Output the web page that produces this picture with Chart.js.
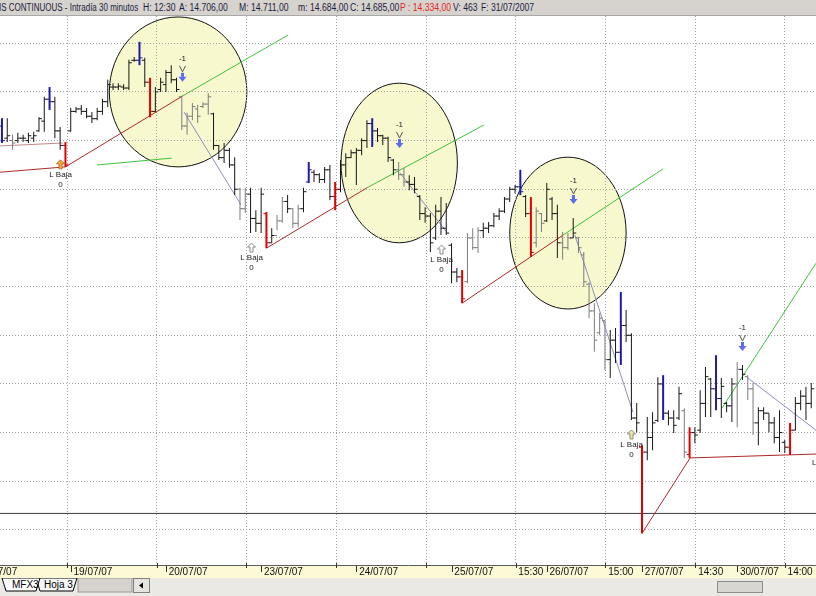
<!DOCTYPE html>
<html>
<head>
<meta charset="utf-8">
<title>IBEX continuo - Intradía 30 minutos</title>
<script src="https://cdn.jsdelivr.net/npm/chart.js@4.4.1/dist/chart.umd.min.js"></script>
<style>
  body { margin: 0; width: 816px; height: 596px; overflow: hidden; background: #fff; position: relative; font-family: 'Liberation Sans', Arial, sans-serif; }
  #hdr { position: absolute; left: 0; top: 0; width: 816px; height: 15px; background: #d6d3ce; border-bottom: 1px solid #a8a8a8;
         font-family: 'Liberation Sans', Arial, sans-serif; font-size: 10px; color: #1c1c40; white-space: nowrap; overflow: hidden; }
  #hdr span { position: absolute; top: 2px; transform: scaleX(0.86); transform-origin: 0 0; }
  #hdr span.first { transform: scaleX(0.8); }
  #hdr .red { color: #e02828; }
  #chart { position: absolute; left: 0; top: 16px; }
  #tabs { position: absolute; left: 0; top: 578px; width: 816px; height: 18px; background: #ebe9e4; }
  #tabs svg { position: absolute; left: 0; top: 0; }
</style>
</head>
<body>
<div id="hdr">
  <span class="first" style="left:-1px">IS CONTINUOUS - Intradía 30 minutos</span>
  <span style="left:143px">H: 12:30</span>
  <span style="left:179px">A: 14.706,00</span>
  <span style="left:239px">M: 14.711,00</span>
  <span style="left:298px">m: 14.684,00</span>
  <span style="left:350px">C: 14.685,00</span>
  <span class="red" style="left:400px">P : 14.334,00</span>
  <span style="left:453px">V: 463</span>
  <span style="left:481px">F: 31/07/2007</span>
</div>
<canvas id="chart" width="816" height="562"></canvas>
<div id="tabs">
  <svg width="816" height="18">
    <rect x="78" y="0" width="54" height="14" fill="#d6d3ce" stroke="#9a9a9a"/>
    <polygon points="36,0 40,13 73,13 77,0" fill="#f4f4f4" stroke="#000"/>
    <polygon points="2,0 6,13 36,13 40,0" fill="#ffffff" stroke="#000"/>
    <text x="12" y="10" font-size="10" font-family="Liberation Sans">MFX3</text>
    <text x="44" y="10" font-size="10" font-family="Liberation Sans">Hoja 3</text>
    <rect x="133.5" y="0.5" width="16" height="14" fill="#e6e4df" stroke="#808080"/>
    <polygon points="139,7.5 143,4.5 143,10.5" fill="#000"/>
    <rect x="717.5" y="3.5" width="45" height="11" fill="#d8d6d1" stroke="#8c8c8c"/>
  </svg>
</div>
<script>
// 30-minute bars, first bar index 5 (18/07/07 = bars 0..17, 18 bars per session)
const firstBar = 5;
const opens = [
  15130, 15105, 15100, 15100, 15105, 15100, 15105, 15120, 15140, 15185,
  15180, 15120, 15090, 15120, 15160, 15165, 15160, 15150, 15145, 15160,
  15180, 15210, 15210, 15210, 15208, 15265, 15265, 15265, 15220, 15160,
  15205, 15215, 15240, 15225, 15190, 15130, 15150, 15165, 15170, 15175,
  15155, 15090, 15065, 15080, 15050, 15000, 14960, 14990, 14940, 14930,
  14950, 14890, 14905, 14935, 14975, 14960, 14930, 14960, 15015, 15035,
  15030, 15020, 15040, 14985, 15000, 15050, 15065, 15075, 15080, 15100,
  15135, 15120, 15110, 15105, 15060, 15040, 15030, 15015, 15010, 14985,
  14950, 14945, 14900, 14955, 14920, 14885, 14830, 14820, 14810, 14900,
  14880, 14915, 14920, 14925, 14945, 14955, 14980, 15000, 15005, 14985,
  14950, 14890, 14950, 14935, 14980, 14950, 14890, 14880, 14900, 14900,
  14865, 14805, 14750, 14705, 14730, 14650, 14690, 14665, 14720, 14700,
  14530, 14470, 14460, 14490, 14525, 14600, 14540, 14530, 14530, 14545,
  14455, 14500, 14505, 14560, 14610, 14590, 14570, 14560, 14555, 14600,
  14630, 14615, 14590, 14520, 14545, 14540, 14520, 14490, 14480, 14470,
  14505, 14560, 14575, 14560
];
const highs = [
  15146, 15146, 15112, 15116, 15112, 15116, 15118, 15148, 15190, 15210,
  15190, 15128, 15097, 15167, 15169, 15173, 15167, 15159, 15167, 15186,
  15225, 15218, 15218, 15216, 15266, 15272, 15303, 15270, 15229, 15210,
  15229, 15245, 15255, 15229, 15192, 15157, 15177, 15173, 15179, 15198,
  15157, 15091, 15095, 15085, 15066, 15003, 15003, 15003, 14957, 15003,
  14953, 14920, 14947, 14984, 14988, 14961, 14968, 15003, 15056, 15040,
  15033, 15046, 15050, 15015, 15060, 15074, 15081, 15085, 15105, 15142,
  15146, 15126, 15112, 15108, 15062, 15056, 15044, 15029, 15025, 14988,
  14963, 14951, 14968, 14984, 14972, 14889, 14838, 14834, 14910, 14920,
  14922, 14931, 14933, 14951, 14961, 14984, 15005, 15009, 15040, 14988,
  14984, 14963, 14951, 15013, 14984, 14968, 14912, 14910, 14941, 14902,
  14871, 14809, 14766, 14746, 14731, 14711, 14715, 14789, 14752, 14704,
  14561, 14474, 14532, 14542, 14614, 14618, 14546, 14546, 14594, 14550,
  14511, 14511, 14587, 14635, 14612, 14659, 14612, 14563, 14612, 14645,
  14639, 14618, 14602, 14552, 14552, 14540, 14532, 14546, 14485, 14520,
  14573, 14587, 14594, 14602
];
const lows = [
  15095, 15097, 15081, 15095, 15097, 15095, 15097, 15118, 15118, 15163,
  15105, 15081, 15046, 15118, 15157, 15153, 15146, 15136, 15142, 15153,
  15169, 15204, 15204, 15204, 15204, 15262, 15255, 15210, 15148, 15159,
  15200, 15200, 15218, 15200, 15122, 15112, 15142, 15136, 15167, 15153,
  15081, 15060, 15054, 15044, 14988, 14937, 14951, 14910, 14912, 14910,
  14879, 14890, 14916, 14931, 14951, 14920, 14922, 14953, 15013, 15015,
  15013, 15013, 14978, 14957, 14994, 15025, 15064, 15009, 15070, 15085,
  15087, 15097, 15091, 15056, 15029, 15019, 15005, 14998, 14992, 14937,
  14931, 14871, 14896, 14906, 14906, 14807, 14809, 14766, 14807, 14875,
  14869, 14900, 14910, 14922, 14937, 14951, 14974, 14992, 14988, 14943,
  14861, 14881, 14912, 14933, 14937, 14859, 14855, 14875, 14900, 14869,
  14799, 14735, 14666, 14700, 14628, 14612, 14643, 14639, 14686, 14526,
  14501, 14293, 14443, 14464, 14522, 14526, 14515, 14499, 14526, 14448,
  14448, 14478, 14499, 14532, 14532, 14546, 14530, 14542, 14522, 14511,
  14608, 14567, 14495, 14474, 14526, 14501, 14478, 14460, 14458, 14454,
  14505, 14546, 14526, 14550
];
const closes = [
  15100, 15110, 15095, 15105, 15105, 15110, 15110, 15145, 15185, 15180,
  15120, 15090, 15050, 15160, 15165, 15160, 15150, 15145, 15160, 15180,
  15215, 15210, 15212, 15208, 15260, 15265, 15270, 15220, 15160, 15200,
  15220, 15240, 15225, 15205, 15130, 15150, 15170, 15150, 15175, 15190,
  15090, 15065, 15080, 15050, 15000, 14960, 14990, 14940, 14930, 14990,
  14890, 14905, 14935, 14975, 14960, 14930, 14960, 14995, 15040, 15030,
  15020, 15040, 14985, 15000, 15050, 15065, 15075, 15080, 15100, 15135,
  15120, 15110, 15105, 15065, 15040, 15030, 15015, 15010, 15000, 14950,
  14945, 14890, 14955, 14920, 14910, 14830, 14820, 14775, 14900, 14880,
  14915, 14920, 14925, 14945, 14955, 14980, 15000, 15005, 14995, 14950,
  14870, 14955, 14930, 15000, 14950, 14890, 14880, 14900, 14910, 14880,
  14810, 14750, 14690, 14735, 14650, 14690, 14665, 14720, 14700, 14530,
  14520, 14460, 14490, 14520, 14600, 14540, 14530, 14515, 14580, 14460,
  14500, 14495, 14560, 14615, 14590, 14570, 14595, 14555, 14600, 14630,
  14620, 14590, 14520, 14545, 14540, 14520, 14490, 14500, 14470, 14505,
  14560, 14575, 14560, 14590
];
// k = normal, g = grey, b = blue (high), r = red (low)
const barStyles =
  'bkgkkkkkkb' + 'kkrkkkkkkk' + 'kkkkkkbkrk' + 'kkkkgggggg' + 'kkkkkggkkk' +
  'rkggkggkbk' + 'kkkrkkkkkk' + 'bkkkkggkkk' + 'kkkkkkkrgg' + 'gkkkkkkkbk' +
  'rggkkkggkg' + 'gggggkkbkk' + 'krkkkbkkkg' + 'rkkkkbkkkg' + 'kggkkkkkkr' + 'kkkk';

const gridPrices = [14300, 14400, 14500, 14600, 14700, 14800, 14900, 15000, 15100, 15200, 15300];
const supportLevel = 14334;

const dayTicks = [0, 18, 36, 54, 72, 90, 108, 126, 144];
const dayLabels = ['18/07/07', '19/07/07', '20/07/07', '23/07/07', '24/07/07', '25/07/07', '26/07/07', '27/07/07', '30/07/07'];
const timeTicks = [17.3, 34.3, 51.2, 68.2, 85.2, 102.1, 119.1, 136.1, 153.0];
const timeLabels = ['', '', '', '', '', '15:30', '15:00', '14:30', '14:00'];

const signalBars = [39, 80, 113, 145];
const lowMarkBars = [16, 52, 88, 124];
const lowMarkFill = ['#f4a63c', '#ffffff', '#ffffff', '#efe6a0'];
// marker cut by the right edge, only its label shows
const edgeMarkX = 160.3, edgeMarkPrice = 14439;

const ellipseX = [38.3, 80.1, 112.0];
const ellipseY = [15200, 15054, 14910];
const ellipseRX = [13.0, 11.0, 11.0];
const ellipseRY = [154, 164, 156];

// trend lines: [x1, price1, x2, price2]
const redLines = [
  [4.6, 15035, 17, 15046], [17, 15046, 39.2, 15192], [55, 14879, 74, 15003],
  [92, 14766, 111.1, 14906], [126, 14293, 135.1, 14448], [135.1, 14448, 158.9, 14456]
];
const greenLines = [
  [39.2, 15192, 59.1, 15317], [23.0, 15050, 37.1, 15064], [74, 15003, 96.1, 15132],
  [111.1, 14906, 130, 15042], [141.1, 14550, 158.9, 14848]
];
const slateLines = [
  [39.4, 15159, 50.2, 14968], [80.2, 15034, 89.1, 14912],
  [113.3, 14906, 124.3, 14542], [145.8, 14614, 158.9, 14505]
];
const pinkLines = [[4.6, 15089, 16.5, 15095]];

const xMin = 4.63, xMax = 158.9;

const colorOf = { k: '#161616', g: '#7c7c7c', b: '#1c1ca8', r: '#e00000' };

const thinBars = [], thinColors = [], thickBars = [], thickColors = [];
const openPts = [], closePts = [], tickColors = [];
opens.forEach((o, n) => {
  const i = firstBar + n;
  const s = barStyles[n];
  const c = colorOf[s];
  const bar = { x: i, y: [lows[n], highs[n]] };
  if (s === 'b' || s === 'r') {
    thickBars.push(bar); thickColors.push(c);
  } else {
    thinBars.push(bar); thinColors.push(c);
  }
  openPts.push({ x: i - 0.28, y: o });
  closePts.push({ x: i + 0.28, y: closes[n] });
  tickColors.push(c);
});

function lineSet(seg, color) {
  return {
    type: 'line',
    data: [{ x: seg[0], y: seg[1] }, { x: seg[2], y: seg[3] }],
    borderColor: color, borderWidth: 1, pointRadius: 0, fill: false, order: 3
  };
}

const xTicks = dayTicks.map((v, k) => ({ value: v, label: dayLabels[k], day: true }))
  .concat(timeTicks.map((v, k) => ({ value: v, label: timeLabels[k], day: false })))
  .sort((a, b) => a.value - b.value);

const overlays = {
  id: 'overlays',
  beforeDraw(chart) {
    const { ctx, chartArea, scales: { x, y } } = chart;
    ctx.save();
    ctx.fillStyle = '#fbf9d6';
    ctx.fillRect(0, chartArea.bottom, chart.width, chart.height - chartArea.bottom);
    ctx.beginPath();
    ctx.rect(chartArea.left, chartArea.top, chartArea.right - chartArea.left, chartArea.bottom - chartArea.top);
    ctx.clip();
    ellipseX.forEach((ex, k) => {
      const cx = x.getPixelForValue(ex);
      const cy = y.getPixelForValue(ellipseY[k]);
      const rx = x.getPixelForValue(ex + ellipseRX[k]) - cx;
      const ry = cy - y.getPixelForValue(ellipseY[k] + ellipseRY[k]);
      ctx.beginPath();
      ctx.ellipse(cx, cy, rx, ry, 0, 0, Math.PI * 2);
      ctx.fillStyle = '#f8f8cf';
      ctx.fill();
      ctx.strokeStyle = '#111';
      ctx.lineWidth = 1;
      ctx.stroke();
    });
    ctx.restore();
  },
  afterDatasetsDraw(chart) {
    const { ctx, scales: { x, y } } = chart;
    ctx.save();
    ctx.textAlign = 'center';
    ctx.textBaseline = 'middle';
    ctx.font = '8px "Liberation Sans", Arial, sans-serif';
    // sell signals: "-1", chevron, blue arrow above the bar high
    signalBars.forEach(b => {
      const bx = Math.round(x.getPixelForValue(b)) + 0.5;
      const hy = y.getPixelForValue(highs[b - firstBar]);
      ctx.fillStyle = '#222';
      ctx.fillText('-1', bx, hy - 37);
      ctx.strokeStyle = '#555';
      ctx.lineWidth = 1;
      ctx.beginPath();
      ctx.moveTo(bx - 3, hy - 30);
      ctx.lineTo(bx, hy - 24);
      ctx.lineTo(bx + 3, hy - 30);
      ctx.stroke();
      const ay = hy - 19;
      ctx.fillStyle = '#5c6cf0';
      ctx.fillRect(bx - 1.5, ay - 4, 3, 4);
      ctx.beginPath();
      ctx.moveTo(bx - 4, ay);
      ctx.lineTo(bx + 4, ay);
      ctx.lineTo(bx, ay + 5);
      ctx.closePath();
      ctx.fill();
    });
    // "L Baja" markers below the bar low
    lowMarkBars.forEach((b, k) => {
      const bx = Math.round(x.getPixelForValue(b)) + 0.5;
      const ay = y.getPixelForValue(lows[b - firstBar]) + 15;
      ctx.beginPath();
      ctx.moveTo(bx, ay - 5);
      ctx.lineTo(bx + 4, ay - 1);
      ctx.lineTo(bx + 1.5, ay - 1);
      ctx.lineTo(bx + 1.5, ay + 4);
      ctx.lineTo(bx - 1.5, ay + 4);
      ctx.lineTo(bx - 1.5, ay - 1);
      ctx.lineTo(bx - 4, ay - 1);
      ctx.closePath();
      ctx.fillStyle = lowMarkFill[k];
      ctx.fill();
      ctx.strokeStyle = k === 0 ? '#c07820' : '#8a8a8a';
      ctx.lineWidth = 1;
      ctx.stroke();
      ctx.fillStyle = '#222';
      ctx.fillText('L Baja', bx, ay + 10);
      ctx.fillText('0', bx, ay + 20);
    });
    ctx.fillStyle = '#222';
    ctx.fillText('L Baja', x.getPixelForValue(edgeMarkX), y.getPixelForValue(edgeMarkPrice));
    ctx.restore();
  },
  afterDraw(chart) {
    const { ctx, chartArea, scales: { x } } = chart;
    const base = Math.round(chartArea.bottom);
    ctx.save();
    ctx.strokeStyle = '#303030';
    ctx.lineWidth = 1;
    xTicks.forEach(t => {
      const px = Math.round(x.getPixelForValue(t.value)) + 0.5;
      ctx.beginPath();
      if (t.day) {
        ctx.moveTo(px, base + 1);
        ctx.lineTo(px, base + 7);
      } else {
        ctx.moveTo(px, base - 2);
        ctx.lineTo(px, base + 3);
      }
      ctx.stroke();
    });
    ctx.restore();
  }
};

const datasets = [
  { type: 'bar', data: thinBars, backgroundColor: thinColors, barThickness: 1, inflateAmount: 0, grouped: false, order: 1 },
  { type: 'bar', data: thickBars, backgroundColor: thickColors, barThickness: 2, inflateAmount: 0, grouped: false, order: 1 },
  { type: 'scatter', data: openPts, pointStyle: 'line', pointRadius: 1.5, pointHoverRadius: 1.5, pointBorderWidth: 1,
    pointBorderColor: tickColors, order: 0 },
  { type: 'scatter', data: closePts, pointStyle: 'line', pointRadius: 1.5, pointHoverRadius: 1.5, pointBorderWidth: 1,
    pointBorderColor: tickColors, order: 0 },
  { type: 'line', data: [{ x: xMin, y: supportLevel }, { x: xMax, y: supportLevel }],
    borderColor: '#3a3a3a', borderWidth: 1, pointRadius: 0, order: 4 }
]
  .concat(redLines.map(s => lineSet(s, '#b02828')))
  .concat(greenLines.map(s => lineSet(s, '#3cc43c')))
  .concat(slateLines.map(s => lineSet(s, '#8c8cc4')))
  .concat(pinkLines.map(s => lineSet(s, '#c48888')));

new Chart(document.getElementById('chart'), {
  type: 'bar',
  data: { datasets: datasets },
  options: {
    responsive: false,
    animation: false,
    devicePixelRatio: 1,
    events: [],
    layout: { padding: 0, autoPadding: false },
    plugins: { legend: { display: false }, tooltip: { enabled: false } },
    scales: {
      x: {
        type: 'linear',
        position: 'bottom',
        min: xMin,
        max: xMax,
        offset: false,
        afterBuildTicks: s => { s.ticks = xTicks.map(t => ({ value: t.value })); },
        afterFit: s => { s.height = 13; s.paddingLeft = 0; s.paddingRight = 0; },
        grid: {
          offset: false,
          drawTicks: false,
          lineWidth: 1,
          color: c => (c.tick && xTicks[c.index] && !xTicks[c.index].day) ? '#a4a4a4' : 'rgba(0,0,0,0)'
        },
        border: { display: true, color: '#5c5c5c', width: 1, dash: [1, 2] },
        ticks: {
          autoSkip: false,
          maxRotation: 0,
          align: 'start',
          padding: 1,
          color: '#111',
          font: { size: 10, family: '"Liberation Sans", Arial, sans-serif' },
          callback: (v, idx) => ' ' + xTicks[idx].label
        }
      },
      y: {
        position: 'left',
        min: 14228,
        max: 15356,
        afterBuildTicks: s => { s.ticks = gridPrices.map(v => ({ value: v })); },
        afterFit: s => { s.width = 0; },
        grid: { drawTicks: false, color: '#a4a4a4', lineWidth: 1 },
        border: { display: false, dash: [1, 2] },
        ticks: { display: false }
      }
    }
  },
  plugins: [overlays]
});
</script>
</body>
</html>
